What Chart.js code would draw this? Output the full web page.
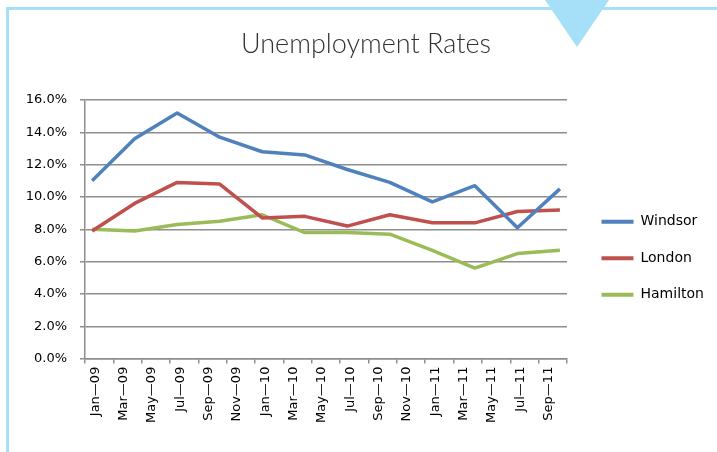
<!DOCTYPE html>
<html>
<head>
<meta charset="utf-8">
<script src="https://cdn.jsdelivr.net/npm/chart.js@4/dist/chart.umd.min.js"></script>
<style>
  html, body { margin: 0; padding: 0; background: #ffffff; }
  #wrap { position: relative; width: 717px; height: 452px; overflow: hidden; }
  .deco { position: absolute; background: #a6dff8; }
  #topline { left: 6px; top: 7px; width: 711px; height: 3px; }
  #leftline { left: 6px; top: 7px; width: 3px; height: 445px; }
  #tri { position: absolute; left: 545px; top: 0; width: 0; height: 0;
         border-left: 32.5px solid transparent; border-right: 32.5px solid transparent;
         border-top: 47px solid #a6dff8; }
  canvas { position: absolute; left: 0; top: 0; }
</style>
</head>
<body>
<div id="wrap">
  <div class="deco" id="topline"></div>
  <div class="deco" id="leftline"></div>
  <div id="tri"></div>
  <canvas id="c" width="717" height="452"></canvas>
</div>
<script>
// Quarterly observation periods (year-month)
const periods = ['2009-01','2009-04','2009-07','2009-10','2010-01','2010-04','2010-07','2010-10','2011-01','2011-04','2011-07','2011-10'];
const windsor  = [11.0, 13.6, 15.2, 13.7, 12.8, 12.6, 11.7, 10.9, 9.7, 10.7, 8.1, 10.5];
const london   = [7.9, 9.6, 10.9, 10.8, 8.7, 8.8, 8.2, 8.9, 8.4, 8.4, 9.1, 9.2];
const hamilton = [8.0, 7.9, 8.3, 8.5, 8.9, 7.8, 7.8, 7.7, 6.7, 5.6, 6.5, 6.7];
const tickLabels = ['Jan\u201409','Mar\u201409','May\u201409','Jul\u201409','Sep\u201409','Nov\u201409',
                    'Jan\u201410','Mar\u201410','May\u201410','Jul\u201410','Sep\u201410','Nov\u201410',
                    'Jan\u201411','Mar\u201411','May\u201411','Jul\u201411','Sep\u201411'];
const seriesNames = ['Windsor','London','Hamilton'];
const seriesColors = ['#4F81BD','#C0504D','#9BBB59'];

// month index counted from Jan-2009, placed at the middle of the month
function monthPos(p) {
  const [y, m] = p.split('-').map(Number);
  return (y - 2009) * 12 + (m - 1) + 0.5;
}
function pts(vals) { return vals.map((v, i) => ({ x: monthPos(periods[i]), y: v })); }

const allSeries = [windsor, london, hamilton];
const datasets = allSeries.map((vals, i) => ({
  label: seriesNames[i],
  data: pts(vals),
  borderColor: seriesColors[i],
  backgroundColor: seriesColors[i],
  borderWidth: 3.5,
  pointRadius: 0,
  pointHoverRadius: 0,
  tension: 0,
  borderJoinStyle: 'round',
  fill: false
}));

const gridGray = '#8e8e8e';
const tickFont = { family: 'DejaVu Sans', size: 13 };

const layoutTweak = {
  id: 'layoutTweak',
  afterInit(chart) {
    const lg = chart.legend;
    if (lg) {
      const orig = lg.fit.bind(lg);
      lg.fit = function () { orig(); this.width = 150; };
    }
  },
  afterLayout(chart) {
    const lg = chart.legend;
    if (lg) {
      lg.left += 12; lg.right += 12;
      lg.top += 29; lg.bottom += 29;
    }
  }
};

new Chart(document.getElementById('c'), {
  type: 'line',
  data: { datasets },
  plugins: [layoutTweak],
  options: {
    responsive: false,
    animation: false,
    devicePixelRatio: 1,
    layout: { padding: { left: 15, right: 0, top: 0, bottom: 0 } },
    plugins: {
      title: {
        display: true,
        text: 'Unemployment Rates',
        color: '#333333',
        font: { family: 'Lato', size: 27, weight: 300 },
        padding: { top: 28, bottom: 39.6 }
      },
      legend: {
        display: true,
        position: 'right',
        fullSize: false,
        align: 'center',
        labels: {
          boxWidth: 32,
          boxHeight: 4,
          padding: 22.5,
          color: '#000000',
          font: { family: 'DejaVu Sans', size: 14 },
          generateLabels(chart) {
            const items = Chart.defaults.plugins.legend.labels.generateLabels(chart);
            items.forEach(it => { it.lineWidth = 0; });
            return items;
          }
        }
      },
      tooltip: { enabled: false }
    },
    scales: {
      x: {
        type: 'linear',
        min: 0,
        max: 34,
        offset: false,
        afterBuildTicks(scale) {
          scale.ticks = tickLabels.map((_, i) => ({ value: 2 * i + 1 }));
        },
        afterFit(scale) { scale.height = 93.4; },
        ticks: {
          autoSkip: false,
          minRotation: 90,
          maxRotation: 90,
          padding: 3,
          labelOffset: -4,
          color: '#000000',
          font: tickFont,
          callback: (v, i) => tickLabels[i]
        },
        grid: {
          offset: true,
          drawOnChartArea: false,
          drawTicks: true,
          tickLength: 5,
          color: gridGray,
          lineWidth: 1.5
        },
        border: { display: true, color: gridGray, width: 1.5 }
      },
      y: {
        min: 0,
        max: 16,
        afterFit(scale) { scale.width = 70; },
        ticks: {
          stepSize: 2,
          padding: 13,
          color: '#000000',
          font: tickFont,
          callback: v => v.toFixed(1) + '%'
        },
        grid: {
          drawOnChartArea: true,
          drawTicks: true,
          tickLength: 5,
          color: gridGray,
          lineWidth: 1.5
        },
        border: { display: true, color: gridGray, width: 1.5 }
      }
    }
  }
});
</script>
</body>
</html>
